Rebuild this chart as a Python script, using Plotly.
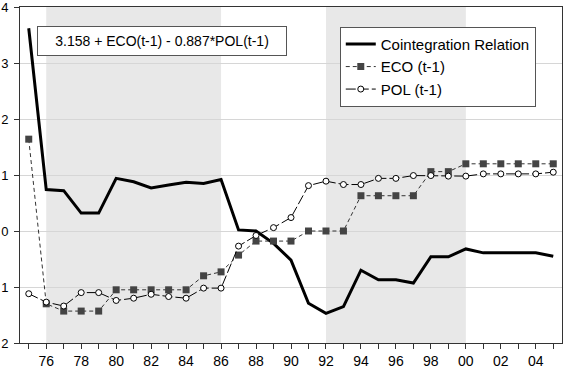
import plotly.graph_objects as go

years = list(range(1975, 2006))
coint = [3.62, 0.74, 0.72, 0.32, 0.32, 0.94, 0.88, 0.77, 0.82, 0.87, 0.85, 0.92,
         0.02, 0.0, -0.22, -0.52, -1.29, -1.47, -1.35, -0.70, -0.87, -0.87, -0.93,
         -0.46, -0.46, -0.32, -0.39, -0.39, -0.39, -0.39, -0.45]
eco = [1.64, -1.30, -1.43, -1.43, -1.43, -1.05, -1.05, -1.05, -1.05, -1.05, -0.80, -0.73,
       -0.43, -0.18, -0.18, -0.18, 0.0, 0.0, 0.0, 0.63, 0.63, 0.63, 0.63,
       1.06, 1.06, 1.20, 1.20, 1.20, 1.20, 1.20, 1.20]
pol = [-1.12, -1.27, -1.34, -1.10, -1.10, -1.24, -1.20, -1.13, -1.17, -1.20, -1.02, -1.02,
       -0.27, -0.08, 0.06, 0.24, 0.81, 0.89, 0.83, 0.83, 0.94, 0.94, 0.99,
       0.99, 0.98, 0.98, 1.02, 1.02, 1.02, 1.02, 1.05]
shade_periods = [(1976, 1986), (1992, 2000)]
xtick_vals = list(range(1976, 2005, 2))
xtick_text = ["76", "78", "80", "82", "84", "86", "88", "90", "92", "94", "96", "98", "00", "02", "04"]
ytick_vals = [4, 3, 2, 1, 0, -1, -2]
ytick_text = ["4", "3", "2", "1", "0", "1", "2"]
equation = "3.158 + ECO(t-1) - 0.887*POL(t-1)"

fig = go.Figure()
fig.add_trace(go.Scatter(x=years, y=coint, mode="lines", name="Cointegration Relation",
                         line=dict(color="black", width=3)))
fig.add_trace(go.Scatter(x=years, y=eco, mode="lines+markers", name="ECO (t-1)",
                         line=dict(color="#333333", width=1, dash="4px,3px"),
                         marker=dict(symbol="square", size=7, color="#444444")))
fig.add_trace(go.Scatter(x=years, y=pol, mode="lines+markers", name="POL (t-1)",
                         line=dict(color="black", width=1, dash="10px,3px"),
                         marker=dict(symbol="circle", size=6, color="white",
                                     line=dict(color="black", width=1))))

for a, b in shade_periods:
    fig.add_vrect(x0=a, x1=b, fillcolor="#e8e8e8", line_width=0, layer="below")

fig.add_annotation(text=equation, xref="paper", yref="paper", x=0.031, y=0.944,
                   xanchor="left", yanchor="top", showarrow=False,
                   font=dict(size=14, color="black"), bgcolor="white",
                   bordercolor="#555555", borderwidth=1, borderpad=6, align="center",
                   width=236)

fig.update_layout(
    width=568, height=383,
    margin=dict(l=20, r=6, t=7, b=40),
    plot_bgcolor="white", paper_bgcolor="white",
    font=dict(family="Liberation Sans, Arial, sans-serif", size=14, color="black"),
    legend=dict(x=0.59, y=0.941, xanchor="left", yanchor="top",
                bgcolor="white", bordercolor="#555555", borderwidth=1,
                font=dict(size=15), tracegroupgap=0, itemwidth=30),
    showlegend=True,
)
fig.update_xaxes(range=[1974.5, 2005.5], tickvals=xtick_vals, ticktext=xtick_text,
                 ticks="outside", ticklen=5, tickcolor="#333333",
                 minor=dict(dtick=1, tick0=1975, ticks="outside", ticklen=5, tickcolor="#333333"),
                 showgrid=False, showline=True, linecolor="#333333", linewidth=1, mirror=True,
                 zeroline=False, tickfont=dict(size=14), ticklabeloverflow="allow",
                 automargin=False)
fig.update_yaxes(range=[-2, 4], tickvals=ytick_vals, ticktext=ytick_text,
                 showgrid=True, gridcolor="#d6d6d6", gridwidth=1,
                 showline=True, linecolor="#333333", linewidth=1, mirror=True,
                 zeroline=False, ticks="outside", ticklen=5, tickcolor="#333333",
                 tickfont=dict(size=13),
                 ticklabeloverflow="allow", ticklabelstandoff=3, automargin=False)

fig.write_html("out.html")
